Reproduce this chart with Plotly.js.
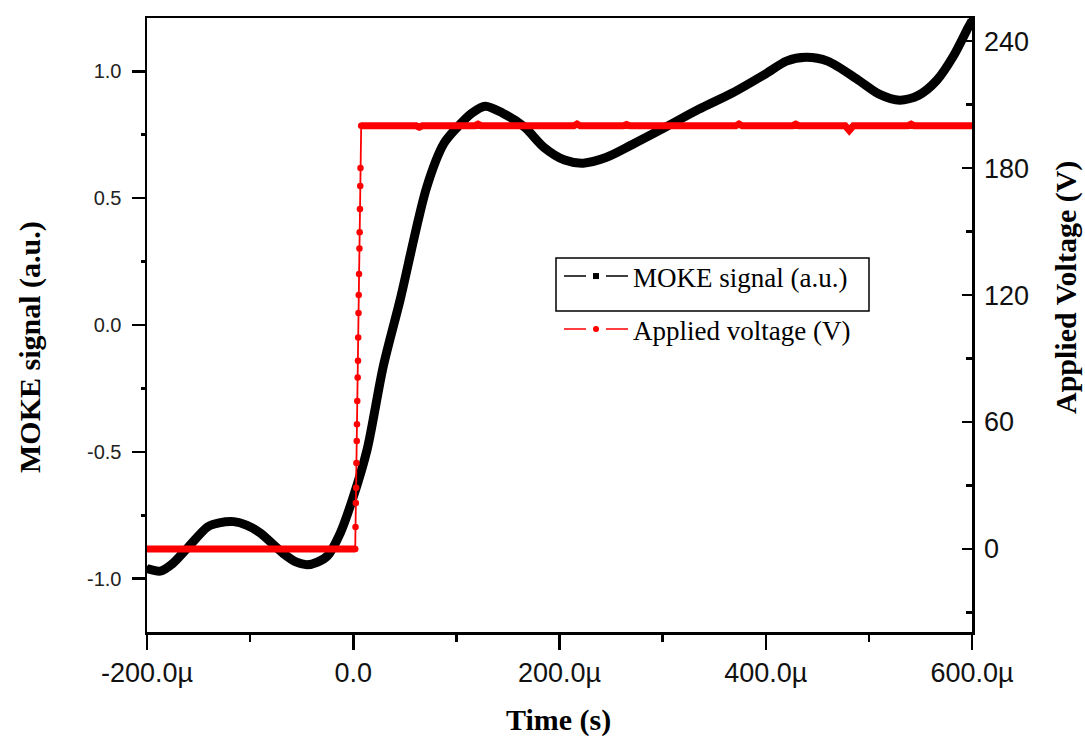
<!DOCTYPE html>
<html><head><meta charset="utf-8">
<script src="https://cdn.plot.ly/plotly-3.0.1.min.js"></script>
<style>html,body{margin:0;padding:0;background:#fff}#chart{width:1085px;height:738px}</style>
</head><body><div id="chart"></div>
<script>
// MOKE signal (a.u.) vs time (µs)
const mokeTime   = [-200, -187, -175, -161, -141, -130, -116, -103, -90, -68, -55, -45, -35, -25, -12.6, -1, 13.5, 29, 45.5, 71, 88, 101, 115, 128, 145, 166, 185, 205, 223, 245, 270, 303, 335, 367, 400, 420, 439, 460, 490, 510, 530, 548, 566, 582, 596, 600];
const mokeSignal = [-0.96, -0.97, -0.94, -0.88, -0.795, -0.78, -0.775, -0.79, -0.82, -0.90, -0.935, -0.945, -0.935, -0.91, -0.82, -0.69, -0.49, -0.165, 0.10, 0.54, 0.716, 0.78, 0.835, 0.862, 0.835, 0.78, 0.70, 0.65, 0.638, 0.66, 0.71, 0.78, 0.85, 0.913, 0.99, 1.04, 1.055, 1.04, 0.965, 0.91, 0.886, 0.905, 0.965, 1.06, 1.17, 1.2];

// Applied voltage (V) vs time (µs)
const voltBaseTime  = [-200, -150, -100, -50, 0, 1.9];
const voltBaseValue = [0, 0, 0, 0, 0, 0];
const voltStepTime  = [1.9, 2.2, 2.5, 2.8, 3.1, 3.4, 3.6, 3.9, 4.3, 4.6, 4.8, 5.1, 5.3, 5.6, 6.0, 6.2, 6.5, 6.8, 7.0, 7.7];
const voltStepValue = [0, 10.4, 21.7, 29, 40.6, 51, 59, 70, 81, 89, 100, 111.5, 120, 130, 142, 149.7, 160.6, 171.5, 180, 200];
const voltPlateauTime  = [7.7, 28, 31, 34, 61, 64, 67, 118, 121, 124, 152, 155, 158, 214, 217, 220, 262, 265, 268, 318, 321, 324, 371, 374, 377, 426, 429, 432, 477, 481, 485, 538, 541, 544, 579, 582, 585, 600];
const voltPlateauValue = [200, 200, 200.8, 200, 200, 199.3, 200, 200, 200.7, 200, 200, 199.4, 200, 200, 200.8, 200, 200, 200.6, 200, 200, 199.3, 200, 200, 200.8, 200, 200, 200.7, 200, 200, 197.8, 200, 200, 200.7, 200, 200, 199.4, 200, 200];

// Tick labels
const xTickVals  = [-200, 0, 200, 400, 600];
const xTickText  = ['-200.0µ', '0.0', '200.0µ', '400.0µ', '600.0µ'];
const yTickVals  = [-1, -0.5, 0, 0.5, 1];
const yTickText  = ['-1.0', '-0.5', '0.0', '0.5', '1.0'];
const y2TickVals = [0, 60, 120, 180, 240];
const y2TickText = ['0', '60', '120', '180', '240'];

const RED = '#ff0000';
const traces = [
  {x: mokeTime, y: mokeSignal, mode: 'lines', line: {color: '#000', width: 9, shape: 'spline', smoothing: 0.8}, showlegend: false, hoverinfo: 'skip'},
  {x: mokeTime, y: mokeSignal, mode: 'lines+markers', name: 'MOKE signal (a.u.)', legend: 'legend',
   line: {color: '#000', width: 1.5, shape: 'spline', smoothing: 0.8, dash: '22px,20px'}, marker: {symbol: 'square', size: 6, color: '#000'}},
  {x: voltBaseTime, y: voltBaseValue, yaxis: 'y2', mode: 'lines', line: {color: RED, width: 7}, showlegend: false},
  {x: voltStepTime, y: voltStepValue, yaxis: 'y2', mode: 'lines+markers', line: {color: RED, width: 1.8}, marker: {color: RED, size: 6.5}, showlegend: false},
  {x: voltPlateauTime, y: voltPlateauValue, yaxis: 'y2', mode: 'lines', line: {color: RED, width: 7}, showlegend: false},
  {x: voltBaseTime, y: voltBaseValue, yaxis: 'y2', mode: 'lines+markers', name: 'Applied voltage (V)', legend: 'legend2',
   line: {color: RED, width: 1.5, dash: '22px,20px'}, marker: {color: RED, size: 6}}
];

const W = 1085, H = 738, L = 147, R = 113, T = 18, B = 106;
const pw = W - L - R, ph = H - T - B;
const px = v => (v - L) / pw;
const py = v => (H - B - v) / ph;

const titleFont = {family: 'Liberation Serif', size: 30, color: '#000', weight: 700};
const legendFont = {family: 'Liberation Serif', size: 27, color: '#000'};

const layout = {
  width: W, height: H,
  margin: {l: L, r: R, t: T, b: B, pad: 0},
  paper_bgcolor: '#fff', plot_bgcolor: '#fff',
  xaxis: {
    range: [-200, 600], showgrid: false, zeroline: false,
    showline: true, linecolor: '#000', linewidth: 2.5, mirror: true,
    ticks: 'outside', ticklen: 15, tickwidth: 2.5, tickcolor: '#000',
    tickmode: 'array', tickvals: xTickVals, ticktext: xTickText,
    tickfont: {family: 'Liberation Sans', size: 27, color: '#111'},
    minor: {tickmode: 'linear', tick0: -200, dtick: 100, ticks: 'outside', ticklen: 7, tickwidth: 2.5, tickcolor: '#000', showgrid: false}
  },
  yaxis: {
    range: [-1.21, 1.21], showgrid: false, zeroline: false,
    showline: true, linecolor: '#000', linewidth: 2.5,
    ticks: 'outside', ticklen: 13, tickwidth: 2.5, tickcolor: '#000',
    tickmode: 'array', tickvals: yTickVals, ticktext: yTickText, ticklabelstandoff: 6,
    tickfont: {family: 'Liberation Sans', size: 20, color: '#222'},
    minor: {tickmode: 'linear', tick0: 0, dtick: 0.25, ticks: 'outside', ticklen: 4, tickwidth: 2.5, tickcolor: '#000', showgrid: false}
  },
  yaxis2: {
    overlaying: 'y', side: 'right',
    range: [-39.2, 250.9], showgrid: false, zeroline: false,
    showline: true, linecolor: '#000', linewidth: 2.5,
    ticks: 'inside', ticklen: 10, tickwidth: 2.5, tickcolor: '#000',
    tickmode: 'array', tickvals: y2TickVals, ticktext: y2TickText, ticklabelstandoff: 4,
    tickfont: {family: 'Liberation Sans', size: 27, color: '#111'},
    minor: {tickmode: 'linear', tick0: 0, dtick: 30, ticks: 'inside', ticklen: 6, tickwidth: 2.5, tickcolor: '#000', showgrid: false}
  },
  legend: {x: px(559), y: py(252), xanchor: 'left', yanchor: 'top', bgcolor: 'rgba(0,0,0,0)', borderwidth: 0, font: legendFont, itemwidth: 64},
  legend2: {x: px(559), y: py(305), xanchor: 'left', yanchor: 'top', bgcolor: 'rgba(0,0,0,0)', borderwidth: 0, font: legendFont, itemwidth: 64},
  shapes: [
    {type: 'rect', xref: 'paper', yref: 'paper', x0: px(556), x1: px(869), y0: py(311), y1: py(258), line: {color: '#000', width: 1.5}, fillcolor: 'rgba(0,0,0,0)'}
  ],
  annotations: [
    {text: 'MOKE signal (a.u.)', xref: 'paper', yref: 'paper', x: px(30), y: py(347), textangle: -90, showarrow: false, xanchor: 'center', yanchor: 'middle', font: titleFont},
    {text: 'Applied Voltage (V)', xref: 'paper', yref: 'paper', x: px(1066), y: py(288), textangle: -90, showarrow: false, xanchor: 'center', yanchor: 'middle', font: titleFont},
    {text: 'Time (s)', xref: 'paper', yref: 'paper', x: px(558), y: py(720), showarrow: false, xanchor: 'center', yanchor: 'middle', font: titleFont}
  ],
  showlegend: true
};

Plotly.newPlot('chart', traces, layout, {staticPlot: true, displayModeBar: false});
</script>
</body></html>
